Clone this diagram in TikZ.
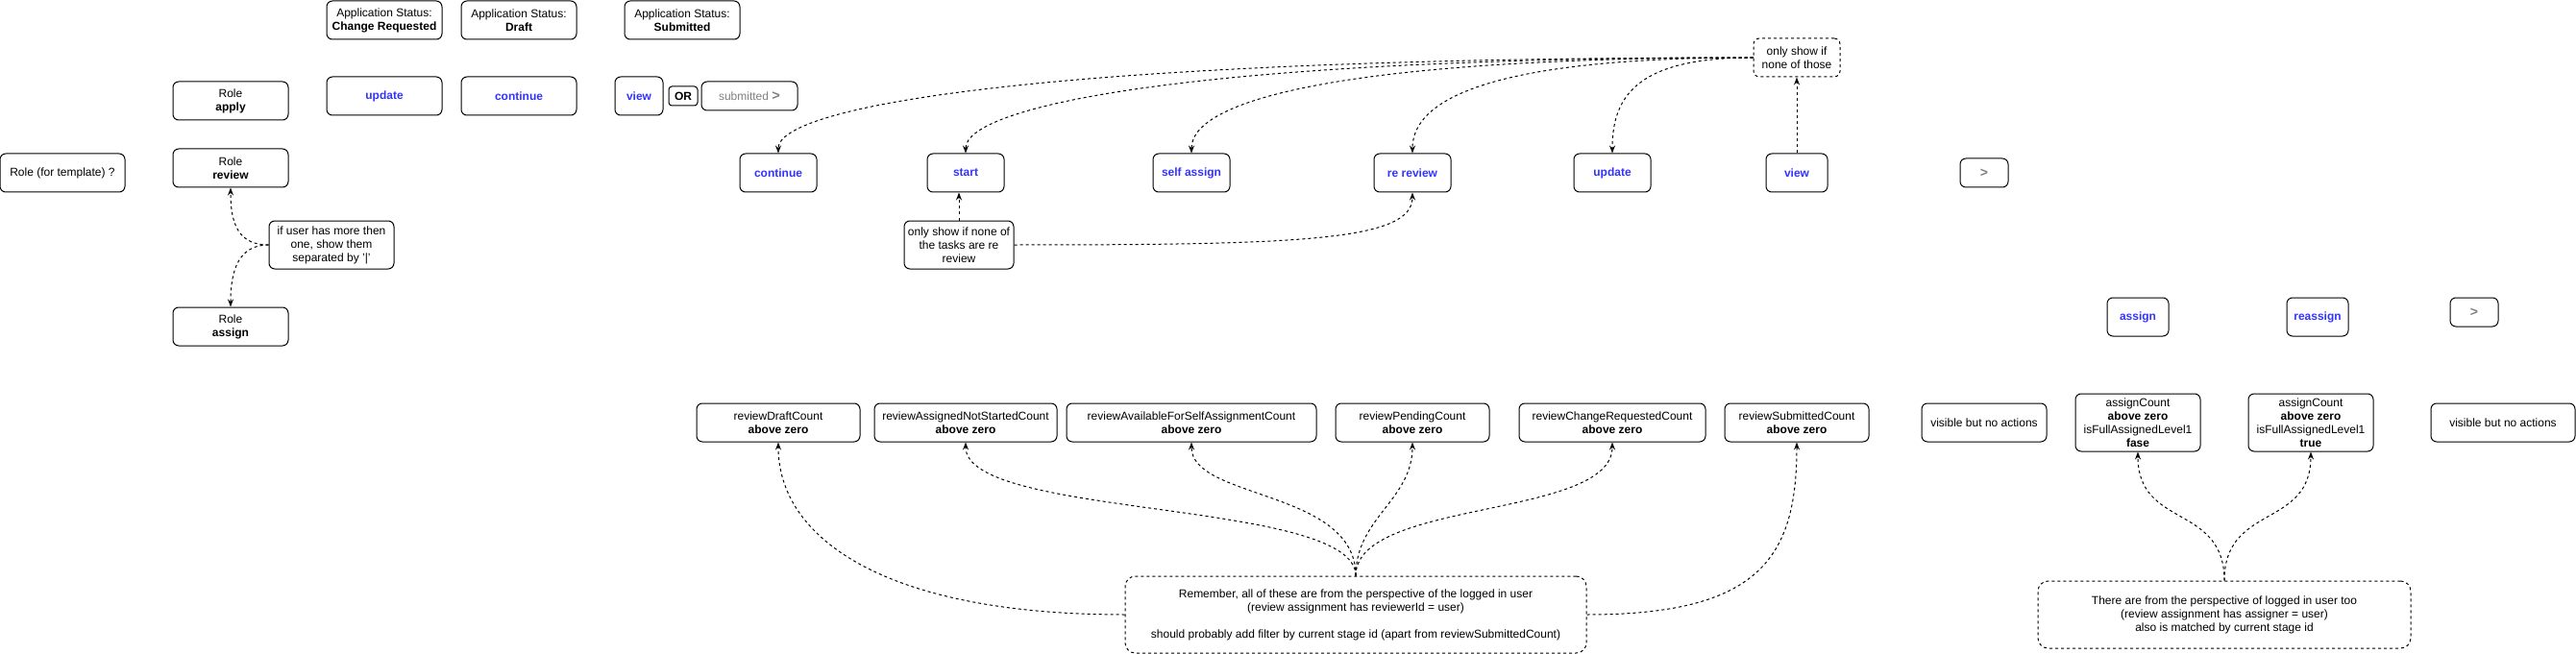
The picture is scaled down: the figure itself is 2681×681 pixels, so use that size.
\documentclass[tikz,border=0pt]{standalone}
\usepackage{fontspec}
\setmainfont{Liberation Sans}
\usepackage{xcolor}
\definecolor{linkblue}{RGB}{51,51,255}
\definecolor{mutedgray}{RGB}{128,128,128}
\usetikzlibrary{shapes,arrows,arrows.meta,positioning}

\begin{document}
\begin{tikzpicture}[x=0.75pt, y=-0.75pt,
    box/.style={draw, rounded corners=4.5pt, line width=0.75pt, inner sep=1pt, align=center, font=\fontsize{9}{10.5}\selectfont, minimum width=90pt, minimum height=30pt},
    btn/.style={box, text=linkblue, font=\fontsize{9}{10.5}\selectfont\bfseries},
    nextbox/.style={box, text=mutedgray, font=\fontsize{10.5}{10.5}\selectfont\bfseries, minimum width=37.5pt, minimum height=22.5pt},
    note/.style={box, dash pattern=on 2.25pt off 2.25pt},
    link/.style={line width=0.75pt, dash pattern=on 2.25pt off 2.25pt, -{Stealth[length=6pt,width=4.5pt]}}
]
    \useasboundingbox (0,0) rectangle (2681,681);

    \node[box] (stChange) at (400,21) {Application Status:\\\textbf{Change Requested}};
    \node[box] (stDraft) at (540,21) {Application Status:\\\textbf{Draft}};
    \node[box] (stSubmitted) at (710,21) {Application Status:\\\textbf{Submitted}};

    \node[box] (roleApply) at (240,105) {Role\\\textbf{apply}};
    \node[btn] (applyUpdate) at (400,100) {update};
    \node[btn] (applyContinue) at (540,100) {continue};
    \node[btn, minimum width=37.5pt] (applyView) at (665,100) {view};
    \node[box, minimum width=22.5pt, minimum height=15pt, rounded corners=2.5pt, font=\fontsize{9}{10.5}\selectfont\bfseries] (applyOr) at (711,100) {OR};
    \node[box, minimum width=75pt, minimum height=22.5pt, text=mutedgray] (applySubmitted) at (780,100) {submitted {\fontsize{11}{11}\selectfont\bfseries >}};

    \node[box, minimum width=97.5pt] (roleTemplate) at (65,180) {Role (for template) ?};
    \node[box] (roleReview) at (240,175) {Role\\\textbf{review}};
    \node[box, minimum width=97.5pt, minimum height=37.5pt] (multiNote) at (345,255) {if user has more then\\one, show them\\separated by '|'};
    \node[box] (roleAssign) at (240,340) {Role\\\textbf{assign}};

    \node[btn, minimum width=60pt] (reviewContinue) at (810,180) {continue};
    \node[btn, minimum width=60pt] (reviewStart) at (1005,180) {start};
    \node[btn, minimum width=60pt] (reviewSelf) at (1240,180) {self assign};
    \node[btn, minimum width=60pt] (reviewRe) at (1470,180) {re review};
    \node[btn, minimum width=60pt] (reviewUpdate) at (1678,180) {update};
    \node[btn, minimum width=48pt] (reviewView) at (1870,180) {view};
    \node[nextbox] (reviewNext) at (2065,180) {>};
    \node[note, minimum width=67.5pt] (noneNote) at (1870,60) {only show if\\none of those};
    \node[box, minimum width=85.5pt, minimum height=37.5pt] (tasksNote) at (998,255) {only show if none of\\the tasks are re\\review};

    \node[btn, minimum width=48pt] (assignBtn) at (2225,330) {assign};
    \node[btn, minimum width=48pt] (reassignBtn) at (2412,330) {reassign};
    \node[nextbox] (assignNext) at (2575,325) {>};

    \node[box, minimum width=127.5pt] (draftCount) at (810,440) {reviewDraftCount\\\textbf{above zero}};
    \node[box, minimum width=142.5pt] (assignedCount) at (1005,440) {reviewAssignedNotStartedCount\\\textbf{above zero}};
    \node[box, minimum width=195pt] (availCount) at (1240,440) {reviewAvailableForSelfAssignmentCount\\\textbf{above zero}};
    \node[box, minimum width=120pt] (pendingCount) at (1470,440) {reviewPendingCount\\\textbf{above zero}};
    \node[box, minimum width=145.5pt] (changeCount) at (1678,440) {reviewChangeRequestedCount\\\textbf{above zero}};
    \node[box, minimum width=112.5pt] (submittedCount) at (1870,440) {reviewSubmittedCount\\\textbf{above zero}};
    \node[box, minimum width=97.5pt] (visibleA) at (2065,440) {visible but no actions};
    \node[box, minimum width=97.5pt, minimum height=45pt] (assignFalse) at (2225,440) {assignCount\\\textbf{above zero}\\isFullAssignedLevel1\\\textbf{fase}};
    \node[box, minimum width=97.5pt, minimum height=45pt] (assignTrue) at (2405,440) {assignCount\\\textbf{above zero}\\isFullAssignedLevel1\\\textbf{true}};
    \node[box, minimum width=112.5pt] (visibleB) at (2605,440) {visible but no actions};

    \node[note, minimum width=360pt, minimum height=60pt, rounded corners=8pt] (rememberNote) at (1411,640) {Remember, all of these are from the perspective of the logged in user\\(review assignment has reviewerId = user)\\[10.5pt]should probably add filter by current stage id (apart from reviewSubmittedCount)};
    \node[note, minimum width=291pt, minimum height=52.5pt, rounded corners=8pt] (thereNote) at (2315,640) {There are from the perspective of logged in user too\\(review assignment has assigner = user)\\also is matched by current stage id};

    \draw[link] (multiNote.west) .. controls +(-30,0) and +(0,40) .. (roleReview.south);
    \draw[link] (multiNote.west) .. controls +(-30,0) and +(0,-40) .. (roleAssign.north);

    \draw[link] (noneNote.west) .. controls +(-725,0) and +(0,-50) .. (reviewContinue.north);
    \draw[link] (noneNote.west) .. controls +(-575,0) and +(0,-50) .. (reviewStart.north);
    \draw[link] (noneNote.west) .. controls +(-400,0) and +(0,-60) .. (reviewSelf.north);
    \draw[link] (noneNote.west) .. controls +(-260,0) and +(0,-60) .. (reviewRe.north);
    \draw[link] (noneNote.west) .. controls +(-120,0) and +(0,-60) .. (reviewUpdate.north);
    \draw[link] (reviewView.north) -- (noneNote.south);
    \draw[link] (tasksNote.north) -- (tasksNote.north |- reviewStart.south);
    \draw[link] (tasksNote.east) .. controls +(300,0) and +(0,50) .. (reviewRe.south);

    \draw[link] (rememberNote.west) .. controls +(-250,0) and +(0,100) .. (draftCount.south);
    \draw[link] (rememberNote.north) .. controls +(0,-80) and +(0,80) .. (assignedCount.south);
    \draw[link] (rememberNote.north) .. controls +(0,-90) and +(0,60) .. (availCount.south);
    \draw[link] (rememberNote.north) .. controls +(0,-60) and +(0,60) .. (pendingCount.south);
    \draw[link] (rememberNote.north) .. controls +(0,-80) and +(0,80) .. (changeCount.south);
    \draw[link] (rememberNote.east) .. controls +(180,0) and +(0,120) .. (submittedCount.south);

    \draw[link] (thereNote.north) .. controls +(0,-80) and +(0,80) .. (assignFalse.south);
    \draw[link] (thereNote.north) .. controls +(0,-80) and +(0,80) .. (assignTrue.south);
\end{tikzpicture}
\end{document}
